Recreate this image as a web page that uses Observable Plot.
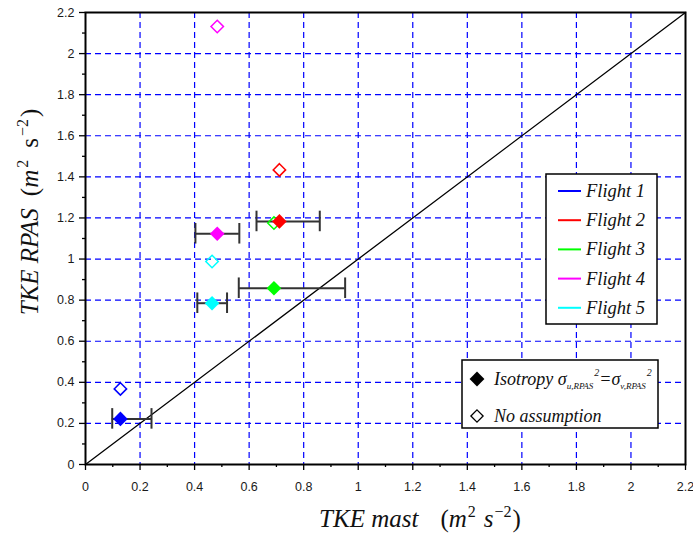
<!DOCTYPE html>
<html><head><meta charset="utf-8">
<script src="https://cdn.jsdelivr.net/npm/d3@7"></script>
<script src="https://cdn.jsdelivr.net/npm/@observablehq/plot@0.6"></script>
<style>body{margin:0;background:#fff} #chart{position:relative;width:693px;height:536px}</style>
</head><body><div id="chart"></div>
<script>
const flights = ["Flight 1", "Flight 2", "Flight 3", "Flight 4", "Flight 5"];
const flightColors = ["#0000ff", "#ff0000", "#00ff00", "#ff00ff", "#00ffff"];
const tkeMast = [0.128, 0.711, 0.691, 0.483, 0.464];
const tkeIsotropy = [0.222, 1.183, 0.858, 1.123, 0.785];
const tkeNoAssumption = [0.368, 1.434, 1.175, 2.132, 0.988];
const mastLow = [0.098, 0.627, 0.562, 0.403, 0.410];
const mastHigh = [0.242, 0.859, 0.952, 0.564, 0.519];
const oneToOne = [0, 2.2];
const majorTicks = [0, 0.2, 0.4, 0.6, 0.8, 1, 1.2, 1.4, 1.6, 1.8, 2, 2.2];
const minorTicks = [0.1, 0.3, 0.5, 0.7, 0.9, 1.1, 1.3, 1.5, 1.7, 1.9, 2.1];
const legendSymbols = ["Isotropy", "No assumption"];

const data = flights.map((f, i) => ({flight: f, mast: tkeMast[i], iso: tkeIsotropy[i], noA: tkeNoAssumption[i], lo: mastLow[i], hi: mastHigh[i]}));
const gridTicks = majorTicks.filter(d => d > 0 && d < 2.2);
const fmt = d => String(+(+d).toFixed(1));
const capHalf = 0.05;
const gridStyle = {stroke: "#0000ff", strokeWidth: 1.2, strokeDasharray: "6,4"};

const svg = Plot.plot({
  width: 693, height: 536,
  marginLeft: 85, marginRight: 8, marginTop: 12, marginBottom: 72,
  style: {fontFamily: "'Liberation Sans', Arial, sans-serif", fontSize: "12.5px", color: "#1a1a1a", background: "white"},
  x: {domain: [0, 2.2]},
  y: {domain: [0, 2.2]},
  color: {domain: flights, range: flightColors},
  marks: [
    Plot.ruleX(gridTicks, {x: d => d, ...gridStyle}),
    Plot.ruleY(gridTicks, {y: d => d, ...gridStyle}),
    Plot.axisX(majorTicks, {tickSize: 6, tickPadding: 12, tickFormat: fmt, label: null, stroke: "black", strokeWidth: 1.3}),
    Plot.axisX(minorTicks, {tickSize: 3, tickFormat: () => "", label: null, stroke: "black", strokeWidth: 1.3}),
    Plot.axisY(majorTicks, {tickSize: 6, tickPadding: 5, tickFormat: fmt, label: null, stroke: "black", strokeWidth: 1.3}),
    Plot.axisY(minorTicks, {tickSize: 3, tickFormat: () => "", label: null, stroke: "black", strokeWidth: 1.3}),
    Plot.line(oneToOne, {x: d => d, y: d => d, stroke: "black", strokeWidth: 1.3}),
    Plot.ruleY(data, {y: "iso", x1: "lo", x2: "hi", stroke: "#333", strokeWidth: 2}),
    Plot.ruleX(data, {x: "lo", y1: d => d.iso - capHalf, y2: d => d.iso + capHalf, stroke: "#333", strokeWidth: 2}),
    Plot.ruleX(data, {x: "hi", y1: d => d.iso - capHalf, y2: d => d.iso + capHalf, stroke: "#333", strokeWidth: 2}),
    Plot.dot(data, {x: "mast", y: "noA", symbol: "diamond2", r: 5.6, stroke: "flight", strokeWidth: 1.5, fill: "white", fillOpacity: 0}),
    Plot.dot(data, {x: "mast", y: "iso", symbol: "diamond2", r: 6.6, fill: "flight", stroke: "none"}),
    Plot.frame({stroke: "black", strokeWidth: 2})
  ]
});
document.getElementById("chart").appendChild(svg);

const s = d3.select(svg);
const serif = "'Liberation Serif', 'Times New Roman', serif";

// axis titles
const xl = s.append("text").attr("x", 420).attr("y", 527).attr("text-anchor", "middle")
  .attr("font-family", serif).attr("font-size", 25).attr("fill", "#111");
xl.append("tspan").attr("font-style", "italic").text("TKE mast");
xl.append("tspan").attr("dx", 22).text("(");
xl.append("tspan").attr("font-style", "italic").text("m");
xl.append("tspan").attr("font-size", 16).attr("dy", -10).attr("dx", 1).text("2");
xl.append("tspan").attr("font-style", "italic").attr("dy", 10).attr("dx", 8).text("s");
xl.append("tspan").attr("font-size", 16).attr("dy", -10).attr("dx", 1).text("\u22122");
xl.append("tspan").attr("dy", 10).attr("dx", 1).text(")");

const yl = s.append("text").attr("transform", "translate(38,212) rotate(-90)").attr("text-anchor", "middle")
  .attr("font-family", serif).attr("font-size", 25).attr("fill", "#111");
yl.append("tspan").attr("font-style", "italic").text("TKE RPAS");
yl.append("tspan").attr("dx", 12).text("(");
yl.append("tspan").attr("font-style", "italic").text("m");
yl.append("tspan").attr("font-size", 16).attr("dy", -10).attr("dx", 2).text("2");
yl.append("tspan").attr("dy", 10).attr("dx", 12).text("s");
yl.append("tspan").attr("font-size", 16).attr("dy", -10).attr("dx", 2).text("\u22122");
yl.append("tspan").attr("dy", 10).attr("dx", 2).text(")");

// legend 1: flights
const l1 = s.append("g").attr("text-anchor", "start");
l1.append("rect").attr("x", 546).attr("y", 174).attr("width", 111).attr("height", 150)
  .attr("fill", "white").attr("stroke", "black").attr("stroke-width", 1.5);
flights.forEach((f, i) => {
  const y = 191 + i * 29.2;
  l1.append("line").attr("x1", 558).attr("x2", 581).attr("y1", y).attr("y2", y)
    .attr("stroke", flightColors[i]).attr("stroke-width", 2);
  l1.append("text").attr("x", 586).attr("y", y + 6).attr("font-family", serif)
    .attr("text-anchor", "start")
    .attr("font-style", "italic").attr("font-size", 18.5).attr("fill", "#111").text(f);
});

// legend 2: symbols
const l2 = s.append("g").attr("text-anchor", "start");
l2.append("rect").attr("x", 462).attr("y", 360).attr("width", 196).attr("height", 68)
  .attr("fill", "white").attr("stroke", "black").attr("stroke-width", 1.5);
l2.append("path").attr("transform", "translate(477,379)")
  .attr("d", d3.symbol(d3.symbolDiamond2, 140)()).attr("fill", "black");
l2.append("path").attr("transform", "translate(477,416)")
  .attr("d", d3.symbol(d3.symbolDiamond2, 95)()).attr("fill", "none").attr("stroke", "black").attr("stroke-width", 1.3);
const t1 = l2.append("text").attr("x", 494).attr("y", 385).attr("font-family", serif)
  .attr("text-anchor", "start")
  .attr("font-style", "italic").attr("font-size", 18).attr("fill", "#111");
t1.append("tspan").text(legendSymbols[0] + " \u03c3");
t1.append("tspan").attr("font-size", 9).attr("dy", 4).text("u,RPAS");
t1.append("tspan").attr("font-size", 10).attr("dy", -13).attr("dx", 1).text("2");
t1.append("tspan").attr("dy", 9).text("=\u03c3");
t1.append("tspan").attr("font-size", 9).attr("dy", 4).text("v,RPAS");
t1.append("tspan").attr("font-size", 10).attr("dy", -13).attr("dx", 1).text("2");
l2.append("text").attr("x", 494).attr("y", 422).attr("font-family", serif)
  .attr("text-anchor", "start")
  .attr("font-style", "italic").attr("font-size", 18).attr("fill", "#111").text(legendSymbols[1]);
</script></body></html>
